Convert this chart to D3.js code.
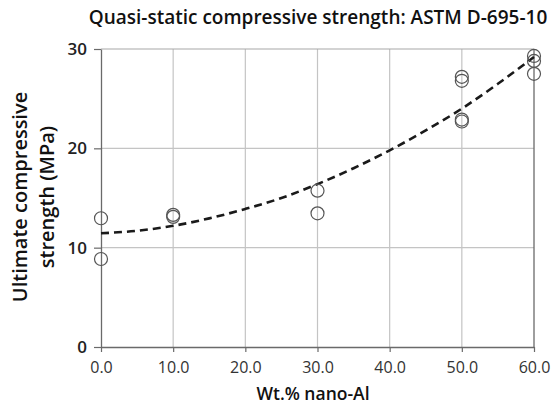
<!DOCTYPE html>
<html><head><meta charset="utf-8">
<script src="https://cdn.jsdelivr.net/npm/d3@7"></script>
<style>body{margin:0;background:#fff}svg{display:block}</style>
</head><body>
<svg id="c" width="553" height="404"></svg>
<script>
// Data
const title = "Quasi-static compressive strength: ASTM D-695-10";
const xLabel = "Wt.% nano-Al";
const yLabelLines = ["Ultimate compressive", "strength (MPa)"];
const xTicks = [0, 10, 20, 30, 40, 50, 60];
const yTicks = [0, 10, 20, 30];
const sampleWt = [0, 0, 10, 10, 30, 30, 50, 50, 50, 50, 60, 60, 60];
const sampleStrength = [12.96, 8.86, 13.3, 13.1, 15.74, 13.46, 27.2, 26.8, 22.9, 22.7, 29.3, 28.8, 27.5];
const trendWt = [0, 5, 10, 15, 20, 25, 30, 35, 40, 45, 50, 55, 60];
const trendStrength = [11.45, 11.7, 12.2, 12.95, 13.9, 15.0, 16.4, 18.0, 19.8, 21.8, 24.0, 26.5, 29.2];

const svg = d3.select("#c");
const x = d3.scaleLinear().domain([0, 60]).range([101, 534]);
const y = d3.scaleLinear().domain([0, 30]).range([347, 49]);
const font = "'Open Sans', sans-serif";

// gridlines
svg.append("g").selectAll("line.v").data(xTicks.slice(1, -1)).join("line")
  .attr("x1", d => x(d)).attr("x2", d => x(d)).attr("y1", y(30)).attr("y2", y(0))
  .attr("stroke", "#c4c4c4").attr("stroke-width", 1.2);
svg.append("g").selectAll("line.h").data(yTicks.slice(1)).join("line")
  .attr("x1", x(0)).attr("x2", x(60)).attr("y1", d => y(d)).attr("y2", d => y(d))
  .attr("stroke", d => d === 30 ? "#a8a8a8" : "#c4c4c4").attr("stroke-width", 1.2);
// right border
svg.append("line").attr("x1", x(60)).attr("x2", x(60)).attr("y1", y(30)).attr("y2", y(0))
  .attr("stroke", "#6a6a6a").attr("stroke-width", 1.3);

// axes
const xAxis = d3.axisBottom(x).tickValues(xTicks).tickFormat(d3.format(".1f")).tickSizeInner(5).tickSizeOuter(0);
const gx = svg.append("g").attr("transform", `translate(0,${y(0)})`).call(xAxis);
gx.select(".domain").attr("stroke", "#6a6a6a").attr("stroke-width", 1.3);
gx.selectAll(".tick line").attr("stroke", "#6a6a6a").attr("stroke-width", 1.2);
gx.selectAll(".tick text").attr("font-family", font).attr("font-size", 16).attr("fill", "#333")
  .attr("y", 26).attr("dy", 0);

const yAxis = d3.axisLeft(y).tickValues(yTicks).tickFormat(d3.format("d")).tickSizeInner(7).tickSizeOuter(0);
const gy = svg.append("g").attr("transform", `translate(${x(0)},0)`).call(yAxis);
gy.select(".domain").attr("stroke", "#6a6a6a").attr("stroke-width", 1.3);
gy.selectAll(".tick line").attr("stroke", "#6a6a6a").attr("stroke-width", 1.2);
gy.selectAll(".tick text").attr("font-family", font).attr("font-size", 17).attr("font-weight", 600).attr("fill", "#222").attr("x", -14);

// trend line
const line = d3.line().x((d, i) => x(trendWt[i])).y(d => y(d)).curve(d3.curveMonotoneX);
svg.append("path").datum(trendStrength).attr("d", line)
  .attr("fill", "none").attr("stroke", "#1a1a1a").attr("stroke-width", 2.6)
  .attr("stroke-dasharray", "8,5");

// markers
svg.append("g").selectAll("circle").data(sampleStrength).join("circle")
  .attr("cx", (d, i) => x(sampleWt[i])).attr("cy", d => y(d)).attr("r", 6.5)
  .attr("fill", "none").attr("stroke", "#555").attr("stroke-width", 1.2);

// titles
svg.append("text").attr("x", 318).attr("y", 24).attr("text-anchor", "middle")
  .attr("font-family", font).attr("font-size", 19).attr("font-weight", 600).attr("fill", "#111").text(title);
svg.append("text").attr("x", 313).attr("y", 400).attr("text-anchor", "middle")
  .attr("font-family", font).attr("font-size", 17.5).attr("font-weight", 600).attr("fill", "#111").text(xLabel);
const yl = svg.append("text").attr("transform", "translate(27,197) rotate(-90)").attr("text-anchor", "middle")
  .attr("font-family", font).attr("font-size", 20).attr("font-weight", 600).attr("fill", "#111");
yl.selectAll("tspan").data(yLabelLines).join("tspan").attr("x", 0).attr("dy", (d, i) => i === 0 ? 0 : 27).text(d => d);
</script>
</body></html>
